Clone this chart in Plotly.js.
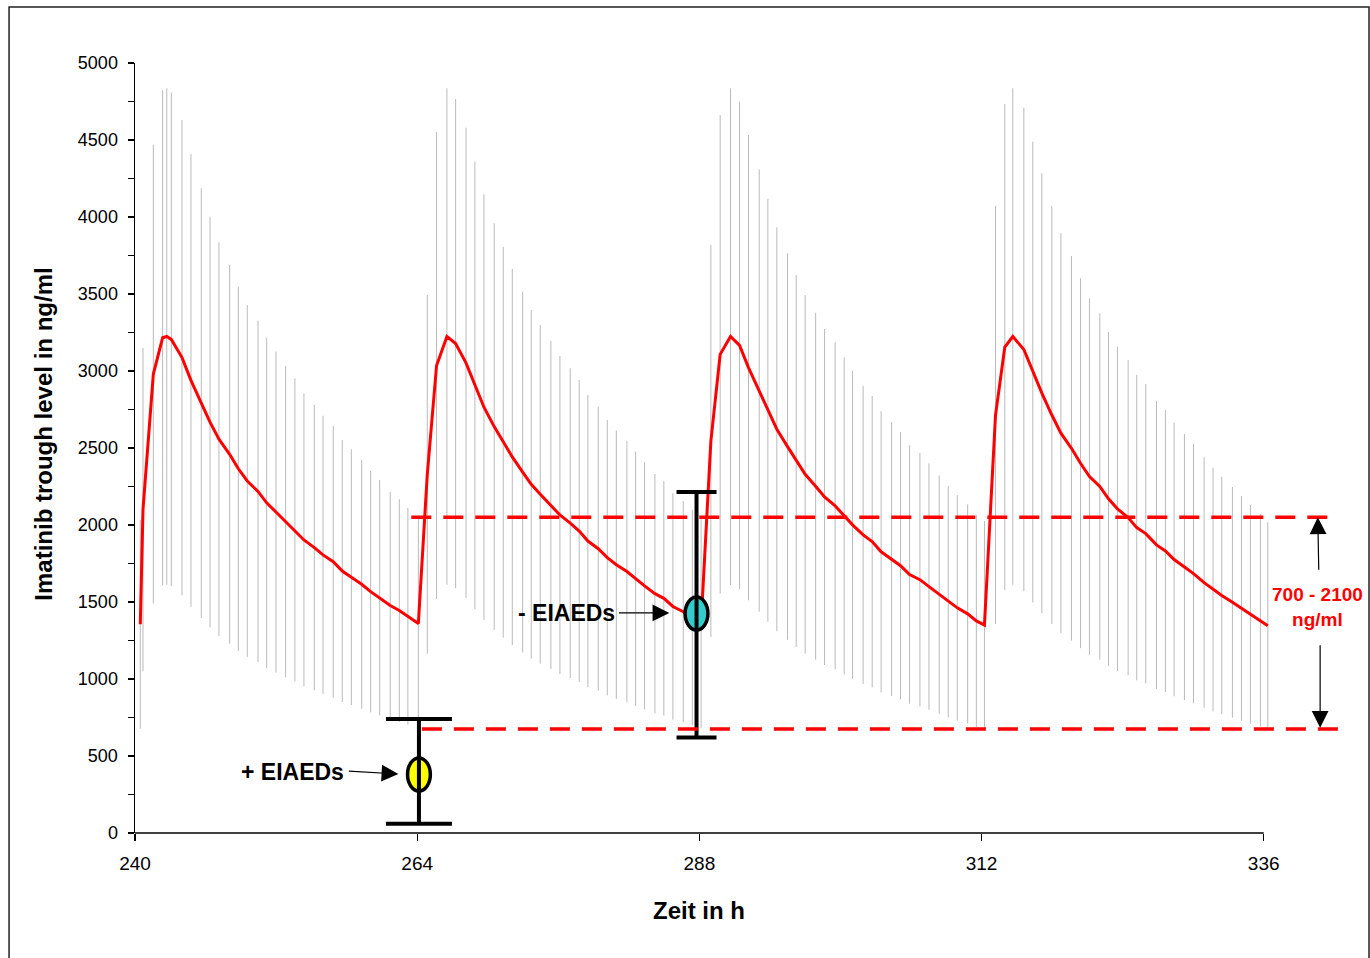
<!DOCTYPE html>
<html><head><meta charset="utf-8">
<script src="https://cdn.plot.ly/plotly-3.0.1.min.js"></script>
<style>html,body{margin:0;padding:0;background:#fff}</style>
</head><body><div id="chart" style="width:1370px;height:958px"></div>
<script>
// ---- data ----
const timeH = [240.45,240.68,241.56,242.35,242.7,243.09,244.0,244.76,245.64,246.38,247.14,248.05,248.79,249.55,250.46,251.2,251.99,252.81,253.6,254.37,255.25,255.99,256.86,257.63,258.4,259.28,260.04,260.81,261.71,262.48,263.21,264.1,
264.86,265.65,266.53,267.27,268.15,268.91,269.68,270.55,271.32,272.09,272.97,273.7,274.47,275.37,276.14,277.02,277.78,278.52,279.4,280.17,280.94,281.84,282.58,283.34,284.22,284.98,285.75,286.63,287.4,288.15,
288.98,289.77,290.65,291.42,292.18,293.09,293.83,294.59,295.5,296.24,297.0,297.89,298.65,299.55,300.32,301.03,301.93,302.7,303.46,304.35,305.11,305.88,306.76,307.53,308.4,309.17,309.94,310.82,311.56,312.25,
313.19,313.98,314.66,315.6,316.36,317.13,317.98,318.75,319.65,320.42,321.18,322.06,322.8,323.56,324.47,325.2,325.97,326.88,327.64,328.38,329.26,330.03,330.93,331.69,332.43,333.34,334.11,334.87,335.72,336.35];
const troughLevel = [1355,2100,2980,3216,3224,3205,3087,2939,2791,2668,2557,2459,2365,2286,2218,2144,2084,2022,1968,1903,1853,1806,1762,1701,1661,1615,1567,1528,1477,1445,1408,1360,
2329,3036,3224,3178,3053,2906,2765,2639,2538,2442,2343,2264,2199,2130,2065,2012,1961,1896,1846,1788,1742,1698,1651,1605,1554,1524,1471,1437,1400,1365,
2545,3108,3224,3166,3022,2873,2745,2622,2509,2416,2329,2252,2182,2124,2059,2001,1936,1892,1826,1779,1736,1678,1645,1600,1548,1502,1462,1423,1377,1350,
2714,3156,3224,3140,2993,2856,2714,2596,2498,2401,2315,2250,2170,2105,2048,1983,1944,1871,1831,1776,1727,1684,1626,1581,1542,1498,1459,1420,1381,1345];
const variabilityPercent = 50;

const eiaedLabels = ['+ EIAEDs', '- EIAEDs'];
const eiaedX = [264.15, 287.76];
const eiaedY = [380, 1425];
const eiaedPlus = [360, 790];
const eiaedMinus = [320, 805];
const eiaedColors = ['#ffff00', '#33cccc'];

const targetLow = 675, targetHigh = 2050;
const targetLabel = '700 - 2100<br>ng/ml';

const xTicks = [240, 264, 288, 312, 336];
const yTicks = [0, 500, 1000, 1500, 2000, 2500, 3000, 3500, 4000, 4500, 5000];
const xTitle = 'Zeit in h';
const yTitle = 'Imatinib trough level in ng/ml';

// ---- styling ----
const FONT = 'Liberation Sans, Arial, sans-serif';
const capHalf = [33, 20];
const rx = 0.97, ry = 107;

const traces = [
  {
    x: timeH, y: troughLevel, type: 'scatter', mode: 'lines',
    line: {color: '#ff0000', width: 3},
    error_y: {type: 'percent', value: variabilityPercent, color: '#bababa', thickness: 1, width: 0},
    hoverinfo: 'skip'
  }
];
eiaedX.forEach((x, i) => {
  traces.push({
    x: [x], y: [eiaedY[i]], type: 'scatter', mode: 'markers',
    marker: {opacity: 0, size: 2},
    error_y: {type: 'data', symmetric: false, array: [eiaedPlus[i]], arrayminus: [eiaedMinus[i]],
              color: '#000', thickness: 4, width: capHalf[i]},
    hoverinfo: 'skip'
  });
});

const shapes = [
  {type: 'rect', xref: 'paper', yref: 'paper', x0: -0.104, x1: 1.019, y0: -0.2, y1: 1.0727,
   line: {color: '#222', width: 1.5}, fillcolor: 'rgba(0,0,0,0)', layer: 'below'},
  {type: 'line', xref: 'x', yref: 'paper', x0: 240, x1: 336, y0: 0, y1: 0, line: {color: '#000', width: 1.5}},
  {type: 'line', xref: 'x', yref: 'y', x0: 263.5, x1: 342.3, y0: targetHigh, y1: targetHigh,
   line: {color: '#ff0000', width: 3.5, dash: '20px,12px'}},
  {type: 'line', xref: 'x', yref: 'y', x0: 264.4, x1: 342.8, y0: targetLow, y1: targetLow,
   line: {color: '#ff0000', width: 3.5, dash: '20px,12px'}}
];
eiaedX.forEach((x, i) => {
  shapes.push({type: 'circle', xref: 'x', yref: 'y', x0: x - rx, x1: x + rx, y0: eiaedY[i] - ry, y1: eiaedY[i] + ry,
               fillcolor: eiaedColors[i], line: {color: '#000', width: 3.5}, layer: 'above'});
  shapes.push({type: 'line', xref: 'x', yref: 'y', x0: x, x1: x, y0: eiaedY[i] - ry, y1: eiaedY[i] + ry,
               line: {color: '#000', width: 4}, layer: 'above'});
});

const boldBlack = {family: FONT, size: 23, color: '#000', weight: 'bold'};
const arrowStyle = {showarrow: true, arrowhead: 2, arrowsize: 2.8, arrowwidth: 1.2, arrowcolor: '#000', standoff: 0, text: ''};
const annotations = [
  {x: 253.4, y: 396, xref: 'x', yref: 'y', text: eiaedLabels[0], showarrow: false, font: boldBlack},
  {x: 276.7, y: 1429, xref: 'x', yref: 'y', text: eiaedLabels[1], showarrow: false, font: boldBlack},
  Object.assign({x: 262.4, y: 383, xref: 'x', yref: 'y', ax: -51, ay: -3}, arrowStyle),
  Object.assign({x: 285.45, y: 1429, xref: 'x', yref: 'y', ax: -52, ay: 0}, arrowStyle),
  Object.assign({x: 340.6, y: targetHigh, xref: 'x', yref: 'y', ax: 1, ay: 54}, arrowStyle),
  Object.assign({x: 340.8, y: 683, xref: 'x', yref: 'y', ax: 0, ay: -84}, arrowStyle),
  {x: 340.6, y: 1468, xref: 'x', yref: 'y', text: targetLabel, showarrow: false,
   font: {family: FONT, size: 19, color: '#ff0000', weight: 'bold'}},
  {x: 288, y: -0.1, xref: 'x', yref: 'paper', text: xTitle, showarrow: false, yanchor: 'middle',
   font: {family: FONT, size: 24, color: '#000', weight: 'bold'}},
  {x: -0.0755, y: 0.518, xref: 'paper', yref: 'paper', text: yTitle, showarrow: false, textangle: -90,
   xanchor: 'center', yanchor: 'middle',
   font: {family: FONT, size: 24, color: '#000', weight: 'bold'}}
];

const layout = {
  width: 1370, height: 958,
  margin: {l: 135, r: 24, t: 63, b: 125},
  paper_bgcolor: '#fff', plot_bgcolor: '#fff',
  showlegend: false,
  font: {family: FONT, color: '#000'},
  xaxis: {
    range: [240, 343], tickvals: xTicks, ticktext: xTicks.map(String),
    ticks: 'outside', ticklen: 7, tickwidth: 1.2, tickcolor: '#000',
    showline: false, showgrid: false, zeroline: false,
    tickfont: {family: FONT, size: 19, color: '#000'},
    ticklabelstandoff: 6
  },
  yaxis: {
    range: [0, 5000], tickvals: yTicks, ticktext: yTicks.map(String),
    ticks: 'outside', ticklen: 6, tickwidth: 1.2, tickcolor: '#000',
    minor: {dtick: 250, ticks: 'outside', ticklen: 6, tickwidth: 1.2, tickcolor: '#000', showgrid: false},
    showline: true, linecolor: '#000', linewidth: 1.5,
    showgrid: false, zeroline: false,
    tickfont: {family: FONT, size: 18, color: '#000'},
    ticklabelstandoff: 6
  },
  shapes: shapes,
  annotations: annotations
};

Plotly.newPlot('chart', traces, layout, {displayModeBar: false, staticPlot: true});
</script></body></html>
